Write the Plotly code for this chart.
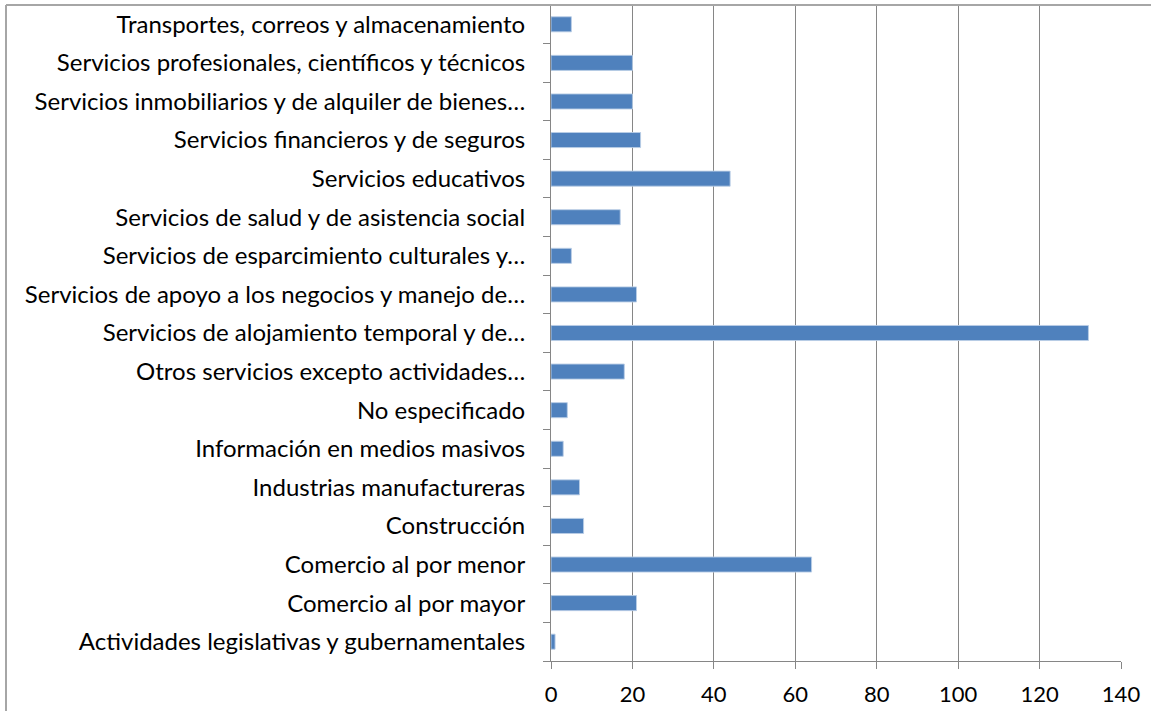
import plotly.graph_objects as go

# Sectors, listed bottom to top as they appear on the category axis
sectores = [
    "Actividades legislativas y gubernamentales",
    "Comercio al por mayor",
    "Comercio al por menor",
    "Construcción",
    "Industrias manufactureras",
    "Información en medios masivos",
    "No especificado",
    "Otros servicios excepto actividades…",
    "Servicios de alojamiento temporal y de…",
    "Servicios de apoyo a los negocios y manejo de…",
    "Servicios de esparcimiento culturales y…",
    "Servicios de salud y de asistencia social",
    "Servicios educativos",
    "Servicios financieros y de seguros",
    "Servicios inmobiliarios y de alquiler de bienes…",
    "Servicios profesionales, científicos y técnicos",
    "Transportes, correos y almacenamiento",
]
valores = [1, 21, 64, 8, 7, 3, 4, 18, 132, 21, 5, 17, 44, 22, 20, 20, 5]
ticks_x = [0, 20, 40, 60, 80, 100, 120, 140]

W, H = 1151, 711
ML, MR, MT, MB = 551, 30, 5, 50
GRIS = "#868686"
FUENTE = "Lato, 'Noto Sans', sans-serif"

fig = go.Figure(
    go.Bar(
        x=valores,
        y=sectores,
        orientation="h",
        marker=dict(color="#4F81BD", line=dict(color="rgba(185,205,229,0.9)", width=1)),
        hoverinfo="x+y",
    )
)

# Outer chart frame (left and top edges), expressed in paper units
pw = W - ML - MR
ph = H - MT - MB
def px_to_paper_x(p):
    return (p - ML) / pw
def px_to_paper_y(p):
    return (H - MB - p) / ph

marco = dict(color="#A6A6A6", width=2)
shapes = [
    dict(type="line", xref="paper", yref="paper",
         x0=px_to_paper_x(6), x1=px_to_paper_x(6),
         y0=px_to_paper_y(5), y1=px_to_paper_y(H + 5), line=marco, layer="above"),
    dict(type="line", xref="paper", yref="paper",
         x0=px_to_paper_x(6), x1=px_to_paper_x(W + 5),
         y0=px_to_paper_y(5), y1=px_to_paper_y(5), line=marco, layer="above"),
]

fig.update_layout(
    width=W,
    height=H,
    margin=dict(l=ML, r=MR, t=MT, b=MB, pad=0, autoexpand=False),
    paper_bgcolor="white",
    plot_bgcolor="white",
    bargap=0.61,
    showlegend=False,
    font=dict(family=FUENTE, color="black"),
    shapes=shapes,
    xaxis=dict(
        range=[0, 140],
        tickvals=ticks_x,
        ticktext=[str(v) for v in ticks_x],
        showgrid=True,
        gridcolor=GRIS,
        gridwidth=1,
        zeroline=False,
        showline=True,
        linecolor=GRIS,
        linewidth=1,
        ticks="outside",
        ticklen=7,
        tickcolor=GRIS,
        tickwidth=1,
        tickfont=dict(size=22, family=FUENTE, color="black"),
        ticklabelstandoff=7,
        automargin=False,
        fixedrange=True,
    ),
    yaxis=dict(
        type="category",
        categoryorder="array",
        categoryarray=sectores,
        showgrid=False,
        zeroline=False,
        showline=True,
        linecolor=GRIS,
        linewidth=1,
        ticks="outside",
        tickson="boundaries",
        ticklen=7,
        tickcolor=GRIS,
        tickwidth=1,
        tickfont=dict(size=24, family=FUENTE, color="black"),
        ticklabelstandoff=20,
        automargin=False,
        fixedrange=True,
    ),
)

fig.write_html("out.html")
